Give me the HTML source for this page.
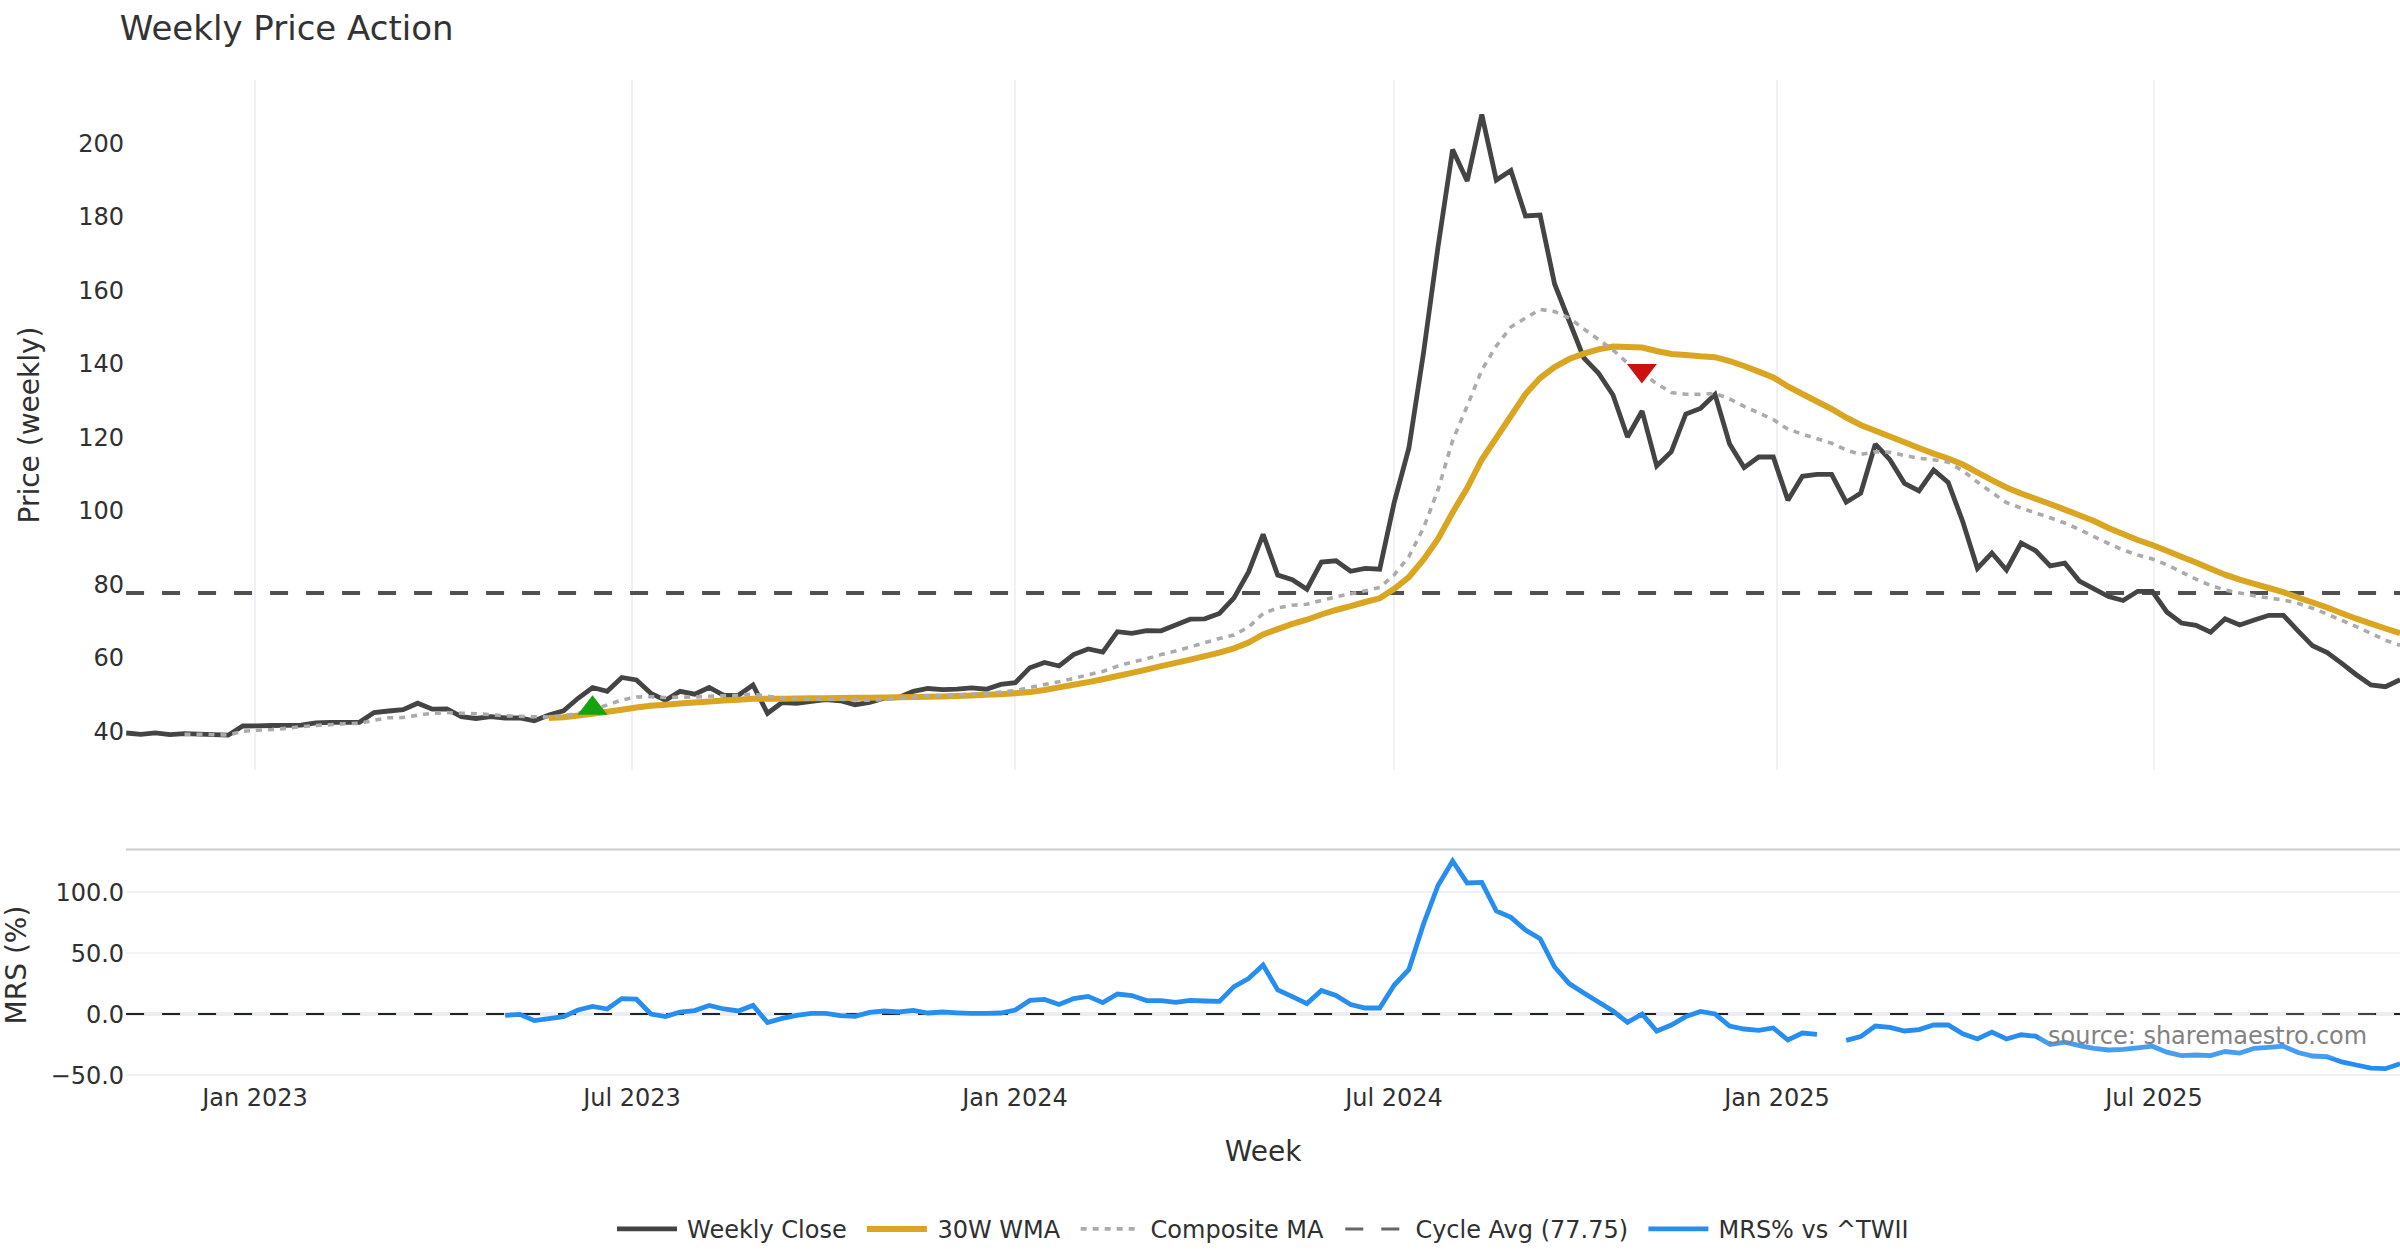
<!DOCTYPE html>
<html lang="en"><head><meta charset="utf-8"><title>Weekly Price Action</title>
<style>html,body{margin:0;padding:0;background:#fff;}body{width:2400px;height:1260px;overflow:hidden;}svg{display:block;}text{font-family:'DejaVu Sans','Liberation Sans',sans-serif;fill:#303030;}.ln{fill:none;stroke-miterlimit:2;stroke-linejoin:miter;}</style></head><body>
<svg width="2400" height="1260" viewBox="0 0 2400 1260">
<rect width="2400" height="1260" fill="#fff"/>
<rect x="254" y="80" width="2" height="690" fill="#f0f0f5"/>
<rect x="631" y="80" width="2" height="690" fill="#f0f0f5"/>
<rect x="1014" y="80" width="2" height="690" fill="#f0f0f5"/>
<rect x="1393" y="80" width="2" height="690" fill="#f0f0f5"/>
<rect x="1776" y="80" width="2" height="690" fill="#f0f0f5"/>
<rect x="2153" y="80" width="2" height="690" fill="#f0f0f5"/>
<rect x="126" y="891" width="2274" height="2" fill="#f0f0f5"/>
<rect x="126" y="952" width="2274" height="2" fill="#f0f0f5"/>
<rect x="126" y="1074" width="2274" height="2" fill="#f0f0f5"/>
<rect x="126" y="1012" width="2274" height="4" fill="#ececf3"/>
<rect x="126" y="848.5" width="2274" height="2" fill="#cbcbcb"/>
<defs><clipPath id="c1"><rect x="126" y="80" width="2274" height="690"/></clipPath><clipPath id="c2"><rect x="126" y="850" width="2274" height="232"/></clipPath></defs>
<path d="M126.07,1014H2400" stroke="#222" stroke-width="2" stroke-dasharray="18,18" fill="none"/>
<path d="M126.07,593H2400" stroke="#505050" stroke-width="4" stroke-dasharray="18,18" fill="none"/>
<g clip-path="url(#c1)">
<path class="ln" d="M126.2,733.0L140.8,734.3L155.4,732.8L169.9,734.7L184.5,733.7L199.1,734.2L213.7,734.7L228.2,735.2L242.8,726.0L257.4,725.8L272.0,725.5L286.5,725.3L301.1,725.2L315.7,722.8L330.3,722.3L344.8,722.3L359.4,722.3L374.0,712.5L388.6,711.0L403.1,709.7L417.7,703.2L432.3,709.2L446.9,708.8L461.4,716.7L476.0,718.5L490.6,716.7L505.2,718.0L519.8,718.0L534.3,720.8L548.9,715.0L563.5,710.8L578.1,698.3L592.6,687.5L607.2,691.3L621.8,677.5L636.4,680.0L650.9,693.3L665.5,700.3L680.1,691.3L694.7,694.2L709.2,687.5L723.8,695.3L738.4,695.3L753.0,685.0L767.5,713.3L782.1,702.5L796.7,703.3L811.3,701.3L825.8,699.7L840.4,700.8L855.0,704.7L869.6,702.5L884.2,698.1L898.7,697.5L913.3,691.3L927.9,688.5L942.5,689.6L957.0,689.2L971.6,687.9L986.2,689.2L1000.8,684.4L1015.3,682.7L1029.9,667.7L1044.5,662.5L1059.1,666.0L1073.6,654.6L1088.2,649.0L1102.8,652.1L1117.4,631.7L1131.9,633.3L1146.5,630.6L1161.1,630.8L1175.7,625.0L1190.2,619.2L1204.8,618.8L1219.4,613.5L1234.0,597.9L1248.6,571.9L1263.1,534.4L1277.7,575.0L1292.3,579.8L1306.9,589.2L1321.4,562.1L1336.0,560.8L1350.6,571.3L1365.2,568.3L1379.7,569.2L1394.3,502.0L1408.9,448.0L1423.5,353.0L1438.0,247.0L1452.6,149.6L1467.2,181.0L1481.8,114.5L1496.3,180.0L1510.9,170.5L1525.5,216.0L1540.1,215.0L1554.6,284.0L1569.2,321.0L1583.8,358.0L1598.4,373.0L1613.0,395.0L1627.5,437.0L1642.1,411.0L1656.7,466.0L1671.3,451.6L1685.8,414.0L1700.4,408.4L1715.0,394.4L1729.6,444.0L1744.1,467.6L1758.7,457.0L1773.3,457.0L1787.9,500.3L1802.4,476.3L1817.0,474.3L1831.6,474.3L1846.2,502.2L1860.7,493.3L1875.3,444.2L1889.9,459.7L1904.5,483.3L1919.0,490.8L1933.6,470.0L1948.2,482.5L1962.8,521.7L1977.4,568.3L1991.9,553.0L2006.5,570.0L2021.1,543.0L2035.7,550.8L2050.2,565.8L2064.8,563.2L2079.4,581.0L2094.0,588.8L2108.5,596.5L2123.1,600.5L2137.7,591.3L2152.3,591.3L2166.8,612.0L2181.4,623.0L2196.0,625.3L2210.6,632.2L2225.1,618.8L2239.7,625.0L2254.3,620.0L2268.9,615.3L2283.4,615.3L2298.0,630.8L2312.6,645.8L2327.2,652.5L2341.8,663.3L2356.3,674.7L2370.9,685.0L2385.5,686.7L2400.1,679.7" stroke="#444444" stroke-width="4.8"/>
<path class="ln" d="M548.9,718.0L563.5,717.2L578.1,715.5L592.6,713.8L607.2,711.8L621.8,709.7L636.4,707.5L650.9,705.8L665.5,704.7L680.1,703.5L694.7,702.5L709.2,701.5L723.8,700.5L738.4,699.7L753.0,698.8L767.5,698.8L782.1,698.7L796.7,698.5L811.3,698.3L825.8,698.2L840.4,698.0L855.0,697.8L869.6,697.7L884.2,697.5L898.7,697.2L913.3,697.0L927.9,696.8L942.5,696.4L957.0,696.0L971.6,695.4L986.2,694.8L1000.8,694.2L1015.3,693.3L1029.9,692.1L1044.5,690.0L1059.1,687.4L1073.6,684.8L1088.2,682.1L1102.8,679.2L1117.4,676.0L1131.9,672.9L1146.5,669.6L1161.1,666.2L1175.7,662.9L1190.2,659.6L1204.8,656.2L1219.4,652.7L1234.0,648.3L1248.6,642.5L1263.1,634.4L1277.7,629.1L1292.3,623.9L1306.9,619.7L1321.4,614.5L1336.0,610.0L1350.6,606.2L1365.2,602.0L1379.7,598.3L1394.3,588.8L1408.9,577.0L1423.5,559.7L1438.0,539.0L1452.6,512.5L1467.2,488.0L1481.8,459.5L1496.3,437.8L1510.9,416.0L1525.5,394.0L1540.1,378.0L1554.6,367.0L1569.2,359.0L1583.8,353.6L1598.4,349.4L1613.0,346.6L1627.5,347.0L1642.1,347.6L1656.7,351.0L1671.3,354.0L1685.8,355.0L1700.4,356.3L1715.0,357.2L1729.6,361.0L1744.1,366.0L1758.7,371.6L1773.3,377.4L1787.9,386.5L1802.4,394.0L1817.0,401.5L1831.6,409.0L1846.2,417.5L1860.7,425.0L1875.3,430.8L1889.9,436.5L1904.5,442.3L1919.0,448.0L1933.6,453.6L1948.2,458.5L1962.8,464.5L1977.4,472.3L1991.9,480.2L2006.5,487.5L2021.1,493.5L2035.7,498.8L2050.2,504.0L2064.8,509.6L2079.4,515.2L2094.0,521.0L2108.5,528.0L2123.1,534.0L2137.7,540.0L2152.3,545.0L2166.8,550.8L2181.4,556.7L2196.0,562.5L2210.6,568.7L2225.1,574.7L2239.7,579.7L2254.3,583.8L2268.9,588.0L2283.4,592.2L2298.0,597.5L2312.6,602.5L2327.2,607.5L2341.8,613.3L2356.3,618.7L2370.9,623.7L2385.5,628.5L2400.1,633.2" stroke="#daa520" stroke-width="6"/>
<path class="ln" d="M184.5,734.2L199.1,734.2L213.7,734.7L228.2,735.0L242.8,731.3L257.4,730.3L272.0,729.5L286.5,728.3L301.1,726.7L315.7,725.5L330.3,724.7L344.8,723.8L359.4,723.3L374.0,720.3L388.6,717.8L403.1,717.5L417.7,715.3L432.3,713.3L446.9,712.5L461.4,713.3L476.0,713.7L490.6,714.7L505.2,715.8L519.8,716.3L534.3,716.7L548.9,717.0L563.5,715.8L578.1,713.3L592.6,709.2L607.2,705.0L621.8,700.0L636.4,697.0L650.9,696.7L665.5,697.5L680.1,697.2L694.7,697.0L709.2,696.2L723.8,695.8L738.4,695.3L753.0,694.2L767.5,696.3L782.1,698.0L796.7,698.7L811.3,699.0L825.8,699.2L840.4,699.3L855.0,700.0L869.6,700.3L884.2,699.5L898.7,698.7L913.3,696.9L927.9,695.8L942.5,695.4L957.0,694.8L971.6,694.2L986.2,693.3L1000.8,692.1L1015.3,690.6L1029.9,687.5L1044.5,684.4L1059.1,681.8L1073.6,678.4L1088.2,674.8L1102.8,671.4L1117.4,666.2L1131.9,662.1L1146.5,658.8L1161.1,654.6L1175.7,651.0L1190.2,646.9L1204.8,642.7L1219.4,638.5L1234.0,635.0L1248.6,627.1L1263.1,613.5L1277.7,607.9L1292.3,605.2L1306.9,604.2L1321.4,600.4L1336.0,596.9L1350.6,593.8L1365.2,590.8L1379.7,587.5L1394.3,574.8L1408.9,556.5L1423.5,528.0L1438.0,490.0L1452.6,440.5L1467.2,406.0L1481.8,370.0L1496.3,346.0L1510.9,327.0L1525.5,318.0L1540.1,309.4L1554.6,311.6L1569.2,318.0L1583.8,329.0L1598.4,339.4L1613.0,350.0L1627.5,363.0L1642.1,373.0L1656.7,383.6L1671.3,392.6L1685.8,394.2L1700.4,394.4L1715.0,393.4L1729.6,399.0L1744.1,406.4L1758.7,413.0L1773.3,419.6L1787.9,429.2L1802.4,434.2L1817.0,438.7L1831.6,443.3L1846.2,450.0L1860.7,454.5L1875.3,451.7L1889.9,452.2L1904.5,455.5L1919.0,458.3L1933.6,459.7L1948.2,462.2L1962.8,470.8L1977.4,482.0L1991.9,492.5L2006.5,502.7L2021.1,508.0L2035.7,513.0L2050.2,517.8L2064.8,523.0L2079.4,529.5L2094.0,536.7L2108.5,543.5L2123.1,550.0L2137.7,555.0L2152.3,559.0L2166.8,564.8L2181.4,572.0L2196.0,579.2L2210.6,585.5L2225.1,590.0L2239.7,593.0L2254.3,595.8L2268.9,598.0L2283.4,600.0L2298.0,603.3L2312.6,608.3L2327.2,614.2L2341.8,620.3L2356.3,626.7L2370.9,633.3L2385.5,640.3L2400.1,645.3" stroke="#ababab" stroke-width="3.6" stroke-dasharray="6,6"/>
<path d="M577.49,714.80H607.51L592.50,695.30Z" fill="#14a30e"/>
<path d="M1626.89,363.90H1656.91L1641.90,383.40Z" fill="#cc1111"/>
</g>
<g clip-path="url(#c2)">
<path class="ln" d="M505.2,1015.4L519.8,1014.4L534.3,1020.6L548.9,1018.6L563.5,1016.6L578.1,1010.0L592.6,1006.4L607.2,1009.0L621.8,998.6L636.4,999.2L650.9,1014.0L665.5,1016.6L680.1,1012.0L694.7,1010.6L709.2,1005.4L723.8,1009.0L738.4,1011.0L753.0,1005.4L767.5,1022.6L782.1,1018.4L796.7,1015.4L811.3,1013.4L825.8,1013.4L840.4,1015.6L855.0,1016.4L869.6,1012.4L884.2,1011.0L898.7,1012.0L913.3,1010.4L927.9,1013.0L942.5,1012.0L957.0,1012.8L971.6,1013.4L986.2,1013.4L1000.8,1013.0L1015.3,1010.0L1029.9,1000.4L1044.5,999.4L1059.1,1004.4L1073.6,998.6L1088.2,996.4L1102.8,1002.6L1117.4,994.0L1131.9,995.6L1146.5,1000.6L1161.1,1000.6L1175.7,1002.4L1190.2,1000.4L1204.8,1001.0L1219.4,1001.4L1234.0,986.6L1248.6,978.6L1263.1,965.0L1277.7,990.0L1292.3,996.6L1306.9,1003.6L1321.4,990.4L1336.0,995.4L1350.6,1004.6L1365.2,1008.0L1379.7,1008.0L1394.3,985.0L1408.9,969.4L1423.5,924.0L1438.0,885.5L1452.6,861.0L1467.2,883.0L1481.8,882.4L1496.3,911.0L1510.9,917.4L1525.5,930.0L1540.1,938.6L1554.6,967.0L1569.2,983.6L1583.8,993.0L1598.4,1002.0L1613.0,1011.0L1627.5,1022.4L1642.1,1014.0L1656.7,1031.0L1671.3,1025.0L1685.8,1016.6L1700.4,1011.4L1715.0,1014.0L1729.6,1026.0L1744.1,1029.0L1758.7,1030.4L1773.3,1028.0L1787.9,1040.0L1802.4,1033.0L1817.0,1034.4M1846.2,1040.4L1860.7,1036.6L1875.3,1026.0L1889.9,1027.4L1904.5,1031.0L1919.0,1029.6L1933.6,1025.0L1948.2,1025.0L1962.8,1033.8L1977.4,1039.0L1991.9,1032.1L2006.5,1039.0L2021.1,1034.8L2035.7,1036.2L2050.2,1044.6L2064.8,1042.1L2079.4,1045.6L2094.0,1048.3L2108.5,1050.0L2123.1,1049.4L2137.7,1047.9L2152.3,1046.2L2166.8,1052.1L2181.4,1055.6L2196.0,1055.0L2210.6,1055.6L2225.1,1051.5L2239.7,1053.1L2254.3,1048.3L2268.9,1047.3L2283.4,1046.2L2298.0,1052.5L2312.6,1056.0L2327.2,1056.7L2341.8,1061.9L2356.3,1065.0L2370.9,1068.1L2385.5,1068.7L2400.1,1063.8" stroke="#268eef" stroke-width="4.8"/>
</g>
<rect x="2039.3" y="1012" width="335.3" height="46" fill="#fff" fill-opacity="0.15"/>
<text x="2367.2" y="1043.5" font-size="24" text-anchor="end" style="fill:#828282">source: sharemaestro.com</text>
<text x="119.8" y="40" font-size="34" style="fill:#333">Weekly Price Action</text>
<text x="124.1" y="739.8" font-size="24" text-anchor="end">40</text>
<text x="124.1" y="666.2" font-size="24" text-anchor="end">60</text>
<text x="124.1" y="592.8" font-size="24" text-anchor="end">80</text>
<text x="124.1" y="519.2" font-size="24" text-anchor="end">100</text>
<text x="124.1" y="445.8" font-size="24" text-anchor="end">120</text>
<text x="124.1" y="372.2" font-size="24" text-anchor="end">140</text>
<text x="124.1" y="298.8" font-size="24" text-anchor="end">160</text>
<text x="124.1" y="225.2" font-size="24" text-anchor="end">180</text>
<text x="124.1" y="151.8" font-size="24" text-anchor="end">200</text>
<text x="124.1" y="900.8" font-size="24" text-anchor="end">100.0</text>
<text x="124.1" y="961.8" font-size="24" text-anchor="end">50.0</text>
<text x="124.1" y="1022.8" font-size="24" text-anchor="end">0.0</text>
<text x="124.1" y="1083.8" font-size="24" text-anchor="end">−50.0</text>
<text x="255" y="1106" font-size="24" text-anchor="middle">Jan 2023</text>
<text x="632" y="1106" font-size="24" text-anchor="middle">Jul 2023</text>
<text x="1015" y="1106" font-size="24" text-anchor="middle">Jan 2024</text>
<text x="1394" y="1106" font-size="24" text-anchor="middle">Jul 2024</text>
<text x="1777" y="1106" font-size="24" text-anchor="middle">Jan 2025</text>
<text x="2154" y="1106" font-size="24" text-anchor="middle">Jul 2025</text>
<text x="1263" y="1160.5" font-size="28" text-anchor="middle">Week</text>
<text transform="translate(38.8,425) rotate(-90)" font-size="28" text-anchor="middle">Price (weekly)</text>
<text transform="translate(25.7,965) rotate(-90)" font-size="28" text-anchor="middle">MRS (%)</text>
<path d="M617,1228.9h60" stroke="#444444" stroke-width="4.8" fill="none"/>
<text x="687.1" y="1237.5" font-size="24">Weekly Close</text>
<path d="M866.9,1228.9h60" stroke="#daa520" stroke-width="6" fill="none"/>
<text x="937.4" y="1237.5" font-size="24">30W WMA</text>
<path d="M1080.7,1228.9h60" stroke="#ababab" stroke-width="3.6" stroke-dasharray="6,6" fill="none"/>
<text x="1150.6" y="1237.5" font-size="24">Composite MA</text>
<path d="M1345.3,1228.9h60" stroke="#666" stroke-width="3" stroke-dasharray="18,18" fill="none"/>
<text x="1415.4" y="1237.5" font-size="24">Cycle Avg (77.75)</text>
<path d="M1648.4,1228.9h60" stroke="#268eef" stroke-width="4.8" fill="none"/>
<text x="1718.5" y="1237.5" font-size="24">MRS% vs ^TWII</text>
</svg></body></html>
